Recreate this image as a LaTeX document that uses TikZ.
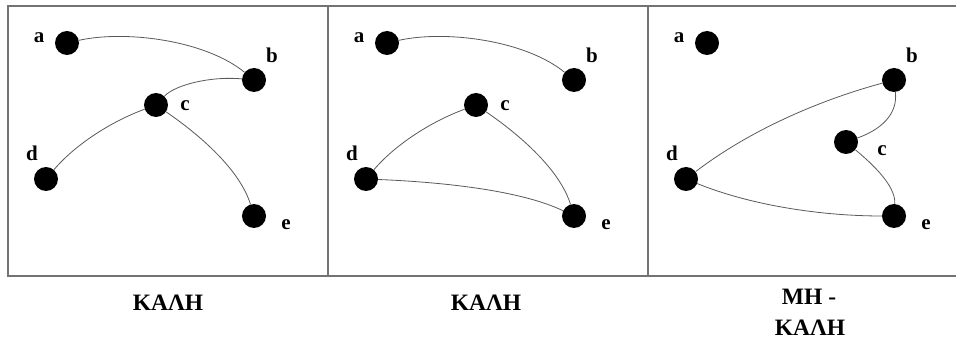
\documentclass[tikz,border=0pt]{standalone}
\usepackage{fontspec}
\setmainfont{Liberation Serif}
\begin{document}
\begin{tikzpicture}[x=1pt,y=-1pt,
  vtx/.style={circle,fill=black,draw=none,minimum size=24pt,inner sep=0pt},
  lbl/.style={font=\fontsize{21}{21}\selectfont\bfseries,anchor=base,inner sep=0pt},
  ttl/.style={font=\fontsize{23.5}{23.5}\selectfont\bfseries,anchor=base,inner sep=0pt},
  edge/.style={draw=black!65,line width=0.8pt},
  frame/.style={draw=black!55,line width=1.3pt}]
\useasboundingbox (0,0) rectangle (956,339);
% frame
\draw[frame] (968,6) -- (8,6) -- (8,276) -- (968,276);
\draw[frame] (328,6) -- (328,276);
\draw[frame] (648,6) -- (648,276);
% ---------- panel 1
\begin{scope}[xshift=0pt]
\node[vtx] (a1) at (67,43) {};
\node[vtx] (b1) at (254,80) {};
\node[vtx] (c1) at (156,105) {};
\node[vtx] (d1) at (46,179) {};
\node[vtx] (e1) at (254,216) {};
\node[lbl] (la1) at (39,43) {a};
\node[lbl] (lb1) at (272,63) {b};
\node[lbl] (lc1) at (185,111) {c};
\node[lbl] (ld1) at (32,161) {d};
\node[lbl] (le1) at (286,230) {e};
\draw[edge] (a1) .. controls (125,30) and (205,40) .. (b1);
\draw[edge] (c1) .. controls (175,85) and (210,76) .. (b1);
\draw[edge] (d1) .. controls (75,145) and (110,122) .. (c1);
\draw[edge] (c1) .. controls (200,135) and (240,170) .. (e1);
\end{scope}
% ---------- panel 2
\begin{scope}[xshift=320pt]
\node[vtx] (a2) at (67,43) {};
\node[vtx] (b2) at (254,80) {};
\node[vtx] (c2) at (156,105) {};
\node[vtx] (d2) at (46,179) {};
\node[vtx] (e2) at (254,216) {};
\node[lbl] (la2) at (39,43) {a};
\node[lbl] (lb2) at (272,63) {b};
\node[lbl] (lc2) at (185,111) {c};
\node[lbl] (ld2) at (32,161) {d};
\node[lbl] (le2) at (286,230) {e};
\draw[edge] (a2) .. controls (125,30) and (205,40) .. (b2);
\draw[edge] (d2) .. controls (75,145) and (110,122) .. (c2);
\draw[edge] (c2) .. controls (200,135) and (240,170) .. (e2);
\draw[edge] (d2) .. controls (120,182) and (200,190) .. (e2);
\end{scope}
% ---------- panel 3
\begin{scope}[xshift=640pt]
\node[vtx] (a3) at (67,43) {};
\node[vtx] (b3) at (254,80) {};
\node[vtx] (c3) at (206,142) {};
\node[vtx] (d3) at (46,179) {};
\node[vtx] (e3) at (254,216) {};
\node[lbl] (la3) at (39,43) {a};
\node[lbl] (lb3) at (272,63) {b};
\node[lbl] (lc3) at (242,156) {c};
\node[lbl] (ld3) at (32,161) {d};
\node[lbl] (le3) at (286,230) {e};
\draw[edge] (d3) .. controls (110,130) and (180,100) .. (b3);
\draw[edge] (b3) .. controls (258,115) and (240,130) .. (c3);
\draw[edge] (c3) .. controls (230,162) and (256,185) .. (e3);
\draw[edge] (d3) .. controls (110,205) and (180,216) .. (e3);
\end{scope}
% titles
\node[ttl] (t1) at (168,310) {ΚΑΛΗ};
\node[ttl] (t2) at (486,310) {ΚΑΛΗ};
\node[ttl] (t3) at (809,304) {ΜΗ -};
\node[ttl] (t4) at (810,335) {ΚΑΛΗ};
\end{tikzpicture}
\end{document}
